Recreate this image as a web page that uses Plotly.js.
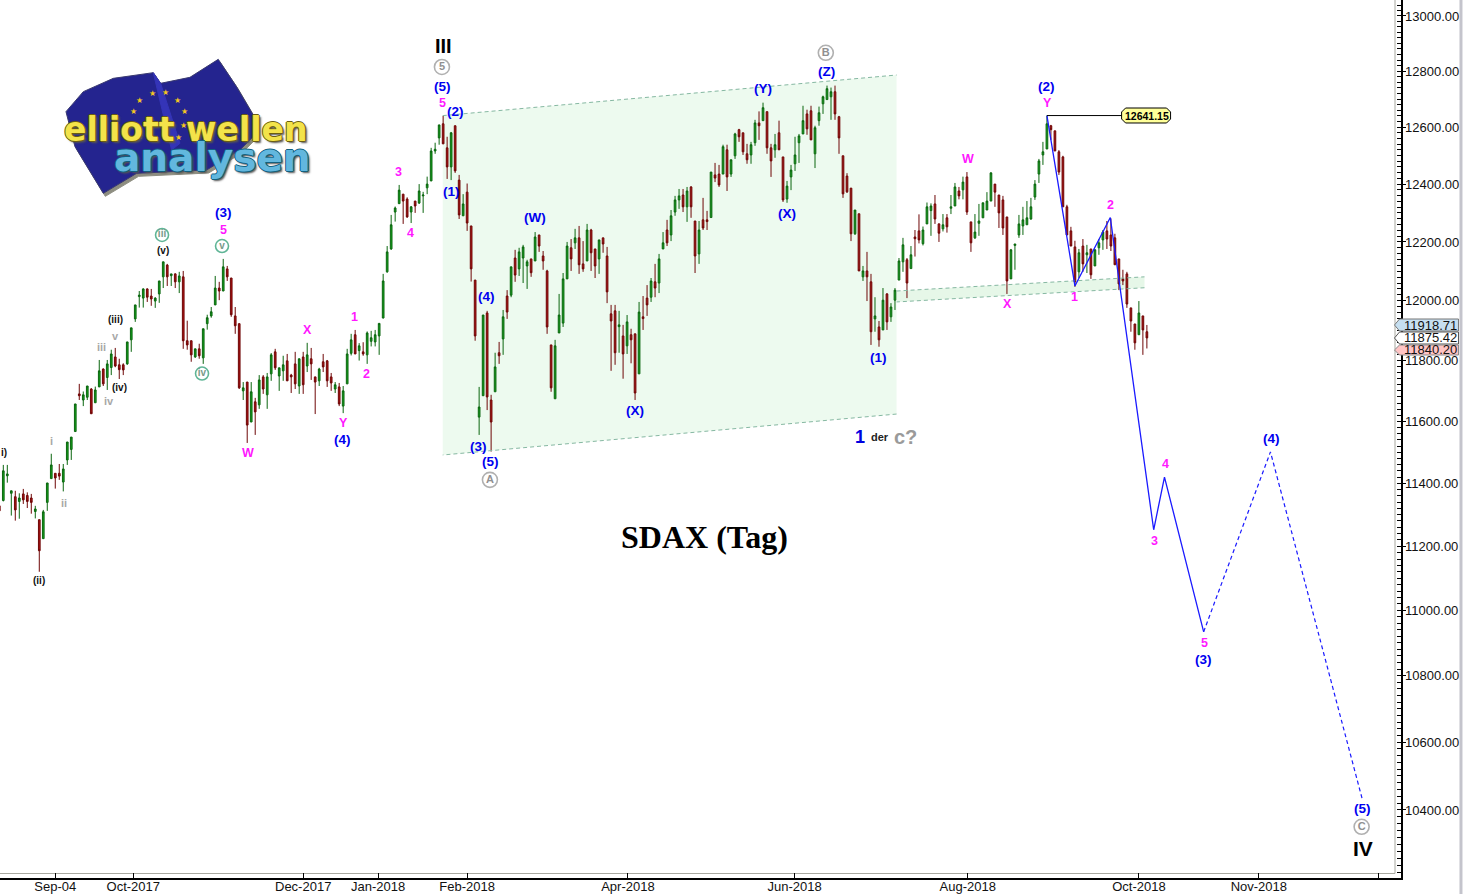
<!DOCTYPE html>
<html><head><meta charset="utf-8">
<script src="https://cdn.plot.ly/plotly-3.0.1.min.js"></script>
<style>html,body{margin:0;padding:0;background:#fff;overflow:hidden}#c{width:1463px;height:894px}</style>
</head><body><div id="c"></div>
<script>
const opens=[11328,11345,11424,11368,11357,11342,11366,11361,11353,11310,
11284,11224,11339,11415,11432,11432,11404,11475,11509,11567,
11690,11670,11679,11706,11661,11713,11772,11744,11777,11812,
11786,11786,11789,11869,11939,12014,12009,12040,12016,11999,
12023,12081,12121,12085,12091,12064,12081,11866,11866,11812,
11839,11809,11923,11949,11986,12043,12033,12108,12077,11949,
11923,11700,11729,11598,11664,11654,11746,11687,11756,11829,
11749,11766,11799,11752,11789,11716,11812,11782,11806,11746,
11733,11796,11799,11746,11706,11713,11650,11723,11824,11886,
11833,11829,11819,11864,11862,11882,11942,12098,12176,12303,
12332,12365,12348,12303,12341,12334,12359,12387,12411,12516,
12562,12612,12527,12460,12605,12414,12290,12372,12255,12070,
11614,11684,11959,11670,11697,11826,11872,12016,12019,12145,
12108,12145,12118,12142,12135,12224,12152,12101,11852,11674,
11892,11925,12074,12180,12197,12214,12125,12135,12241,12176,
12142,12214,12152,11956,11966,11913,11882,11849,11886,11889,
11756,11946,12009,12012,12064,12060,12176,12241,12224,12303,
12345,12362,12321,12390,12272,12159,12276,12276,12284,12432,
12435,12435,12520,12435,12499,12591,12580,12506,12502,12545,
12615,12623,12655,12527,12520,12580,12495,12348,12425,12471,
12545,12576,12647,12658,12506,12623,12683,12698,12708,12726,
12637,12499,12428,12386,12228,12297,12081,12101,12064,11939,
11912,11902,12023,11946,12002,12070,12132,12139,12109,12217,
12238,12194,12262,12308,12331,12262,12245,12283,12316,12324,
12376,12380,12425,12269,12214,12264,12283,12310,12341,12400,
12362,12345,12286,12074,12188,12224,12255,12259,12279,12355,
12435,12502,12523,12605,12587,12513,12495,12321,12238,12183,
12098,12186,12156,12176,12118,12180,12207,12238,12224,12214,
12142,12074,12091,11976,11922,11886,11949,11896];
const highs=[11347,11459,11459,11376,11376,11368,11382,11371,11366,11328,
11284,11315,11401,11495,11432,11462,11462,11533,11549,11657,
11723,11698,11716,11709,11714,11802,11774,11802,11836,11842,
11806,11791,11862,11909,11986,12033,12042,12042,12040,12012,
12067,12132,12125,12091,12093,12098,12101,11933,11866,11839,
11856,11906,11953,11979,12084,12064,12142,12118,12077,11979,
11923,11729,11729,11729,11677,11752,11752,11759,11825,11839,
11776,11816,11822,11756,11829,11806,11829,11859,11842,11746,
11776,11822,11802,11759,11729,11726,11716,11839,11889,11902,
11858,11861,11897,11899,11902,11924,12091,12186,12293,12322,
12397,12365,12354,12324,12341,12400,12373,12426,12527,12545,
12608,12640,12566,12583,12605,12432,12365,12402,12255,12070,
11713,11952,11966,11687,11826,11862,11969,12036,12115,12173,
12180,12190,12139,12142,12234,12224,12169,12105,11852,11869,
12023,12094,12200,12210,12245,12255,12203,12262,12245,12176,
12207,12214,12183,11986,11986,11966,11919,11952,11906,11889,
11996,12016,12053,12077,12125,12159,12234,12276,12310,12359,
12383,12383,12390,12393,12272,12272,12352,12307,12442,12474,
12467,12538,12538,12485,12580,12594,12580,12541,12548,12626,
12656,12687,12655,12541,12576,12623,12495,12411,12467,12566,
12576,12676,12662,12676,12605,12673,12712,12748,12741,12748,
12640,12499,12438,12386,12310,12297,12118,12166,12091,12012,
11932,12043,12026,11992,12043,12145,12214,12145,12186,12241,
12295,12253,12336,12333,12362,12264,12296,12296,12362,12404,
12390,12426,12442,12269,12296,12331,12335,12372,12442,12400,
12362,12359,12286,12176,12193,12293,12321,12341,12352,12414,
12488,12548,12641.15,12608,12587,12519,12499,12328,12252,12204,
12176,12210,12190,12176,12176,12210,12241,12272,12281,12228,
12142,12105,12098,11976,11922,11999,11949,11918.71];
const lows=[11310,11342,11402,11297,11281,11287,11334,11321,11303,11288,
11120,11224,11312,11415,11383,11411,11374,11459,11475,11567,
11670,11650,11670,11625,11661,11713,11716,11703,11752,11778,
11739,11752,11786,11829,11929,11977,11977,11996,11983,11976,
11993,12043,12050,12050,12043,12026,11839,11836,11796,11809,
11806,11789,11903,11943,11986,12002,12033,12067,11946,11889,
11706,11670,11530,11598,11556,11641,11690,11641,11733,11769,
11700,11733,11733,11693,11706,11690,11690,11762,11736,11624,
11716,11762,11713,11700,11693,11650,11627,11723,11817,11822,
11800,11816,11789,11847,11847,11819,11941,12095,12173,12270,
12332,12262,12283,12265,12300,12331,12300,12365,12411,12506,
12538,12541,12418,12414,12439,12279,12290,12238,12065,11866,
11556,11684,11637,11502,11697,11789,11819,11939,12012,12064,
12084,12060,12040,12081,12135,12166,12105,11889,11697,11674,
11892,11912,12074,12101,12176,12091,12098,12135,12101,12077,
12091,12163,11992,11766,11786,11826,11740,11822,11791,11670,
11756,11902,11949,11996,12012,12026,12176,12186,12203,12290,
12314,12303,12269,12283,12094,12125,12241,12241,12284,12407,
12390,12435,12376,12425,12488,12548,12502,12471,12471,12534,
12555,12623,12506,12425,12492,12520,12338,12335,12379,12446,
12474,12576,12573,12555,12456,12605,12647,12698,12626,12626,
12506,12352,12369,12203,12224,12101,12067,11999,11852,11896,
11846,11902,11902,11929,11969,12070,12098,12009,12109,12150,
12195,12188,12262,12221,12262,12200,12236,12232,12296,12324,
12347,12347,12293,12166,12210,12221,12283,12310,12341,12321,
12248,12224,12023,12074,12105,12214,12224,12259,12276,12345,
12404,12467,12523,12555,12516,12432,12321,12224,12186,12047,
12077,12098,12094,12074,12118,12156,12173,12176,12169,12122,
12036,12053,11976,11896,11836,11886,11819,11840.20];
const closes=[11312,11440,11430,11376,11315,11353,11347,11342,11339,11318,
11186,11309,11401,11459,11417,11423,11446,11533,11549,11657,
11684,11687,11716,11625,11703,11766,11723,11789,11822,11782,
11770,11769,11862,11909,11986,12019,12040,12012,12006,12009,
12067,12132,12081,12091,12064,12084,11866,11852,11819,11839,
11816,11906,11943,11963,12043,12033,12115,12081,11953,11916,
11710,11710,11588,11697,11631,11736,11706,11746,11819,11776,
11776,11786,11733,11746,11723,11806,11720,11819,11789,11729,
11772,11779,11733,11726,11720,11657,11700,11822,11869,11822,
11849,11822,11892,11876,11886,11924,12067,12166,12259,12317,
12379,12341,12286,12321,12324,12376,12362,12400,12516,12522,
12608,12541,12460,12580,12446,12293,12331,12265,12108,11882,
11647,11952,11680,11598,11779,11816,11946,11962,12115,12087,
12166,12183,12132,12095,12217,12186,12135,11912,11710,11849,
11952,12074,12186,12142,12214,12122,12108,12241,12163,12118,
12207,12193,12030,11932,11826,11919,11822,11929,11869,11693,
11962,11940,11986,12067,12043,12142,12197,12197,12290,12345,
12359,12321,12376,12321,12152,12241,12248,12270,12442,12421,
12397,12531,12425,12485,12576,12566,12513,12485,12538,12615,
12605,12669,12527,12481,12538,12520,12345,12393,12449,12502,
12569,12623,12594,12555,12598,12651,12708,12737,12726,12647,
12562,12366,12373,12228,12310,12101,12101,12081,11896,11949,
11869,12002,11929,11979,12036,12135,12190,12060,12156,12211,
12207,12241,12321,12324,12279,12230,12259,12252,12321,12390,
12359,12407,12303,12197,12234,12272,12335,12341,12439,12372,
12300,12248,12067,12173,12193,12262,12276,12283,12321,12400,
12481,12513,12612,12591,12516,12442,12321,12224,12186,12064,
12163,12125,12163,12088,12173,12197,12234,12210,12186,12122,
12057,12067,11989,11932,11859,11959,11902,11875.42];

const xTickVals=[14,33.5,76,94.75,117,157.2,198.9,242.2,285,315,345];
const xTickText=['Sep-04','Oct-2017','Dec-2017','Jan-2018','Feb-2018','Apr-2018','Jun-2018','Aug-2018','Oct-2018','Nov-2018',''];
const yTickVals=[13000,12800,12600,12400,12200,12000,11800,11600,11400,11200,11000,10800,10600,10400];

const forecastSolidX=[262,269,277.85,288.7,291.4,301.2];
const forecastSolidY=[12641.15,12050,12284,11252,11420,10934];
const forecastDashX=[301.2,317.9,340.9];
const forecastDashY=[10934,11501,10430];
const peakLineX=[262,280.7];
const peakLineY=[12641.15,12641.15];

const channelX=[110.9,224.4,224.4,110.9];
const channelY=[12641,12786,11624,11491];
const stripX=[224.4,286.4,286.4,224.4];
const stripY=[12033,12081,12044,11996];

const blueLabels=[['(3)',55.7,12300],['(5)',110.7,12744],['(4)',85.7,11540],['(2)',113.9,12654],['(1)',112.9,12373],['(W)',133.7,12283],['(4)',121.7,12013],['(3)',119.7,11520],['(5)',122.7,11469],['(Y)',190.7,12736],['(Z)',206.7,12797],['(X)',196.7,12297],['(X)',158.7,11634],['(1)',219.7,11809],['(2)',261.7,12744],['(3)',300.9,10848],['(4)',317.9,11546],['(5)',340.7,10403]];
const magentaLabels=[['5',55.7,12241],['W',61.9,11498],['X',76.9,11902],['Y',85.9,11595],['1',88.7,11946],['2',91.7,11757],['3',99.7,12442],['4',102.7,12231],['5',110.7,12687],['W',241.9,12488],['Y',261.9,12687],['X',251.9,11989],['1',268.7,12013],['2',277.7,12328],['3',288.7,11217],['4',291.4,11462],['5',301.2,10900]];
const blackLabels=[['(v)',40.7,12172],['(iii)',28.9,11936],['(iv)',29.9,11710],['(ii)',9.7,11092],['i)',0.9,11498]];
const grayLabels=[['v',28.9,11882],['iii',25.2,11845],['iv',27.2,11667],['i',12.9,11537],['ii',15.9,11337]];
const greenCircleText=['iii','v','iv'];
const greenCircleX=[40.7,55.7,50.7];
const greenCircleY=[12224,12186,11757];
const grayCircleText=['5','A','B','C'];
const grayCircleX=[110.7,122.7,206.7,340.7];
const grayCircleY=[12815,11411,12866,10351];
const lastPriceTags=['11918.71','11875.42','11840.20'];

const FONT='"Liberation Sans", Arial, sans-serif';
const PW=1401.5, PH=878;
const X=p=>p/PW, Y=p=>1-p/PH;
const pathOf=pts=>pts.map((q,i)=>(i?'L':'M')+X(q[0]).toFixed(5)+' '+Y(q[1]).toFixed(5)).join(' ')+' Z';
const zoomPt=q=>[40+q[0]/3,50+q[1]/3];
const dataPath=(xs,ys)=>xs.map((v,i)=>(i?'L':'M')+v+' '+ys[i]).join(' ')+' Z';

const traces=[
 {type:'scatter',mode:'lines',x:channelX.slice(0,2),y:channelY.slice(0,2),line:{color:'#86b8a2',width:1,dash:'4px,3px'},hoverinfo:'skip'},
 {type:'scatter',mode:'lines',x:channelX.slice(2),y:channelY.slice(2),line:{color:'#86b8a2',width:1,dash:'4px,3px'},hoverinfo:'skip'},
 {type:'scatter',mode:'lines',x:stripX.slice(0,2),y:stripY.slice(0,2),line:{color:'#86b8a2',width:1,dash:'4px,3px'},hoverinfo:'skip'},
 {type:'scatter',mode:'lines',x:stripX.slice(2),y:stripY.slice(2),line:{color:'#86b8a2',width:1,dash:'4px,3px'},hoverinfo:'skip'},
 {type:'candlestick',x:opens.map((_,i)=>i),open:opens,high:highs,low:lows,close:closes,
  increasing:{line:{color:'#0b660f',width:1},fillcolor:'#12a31a'},
  decreasing:{line:{color:'#6e0606',width:1},fillcolor:'#b01212'},hoverinfo:'skip'},
 {type:'scatter',mode:'lines',x:forecastSolidX,y:forecastSolidY,line:{color:'#1a1aff',width:1.3},hoverinfo:'skip'},
 {type:'scatter',mode:'lines',x:forecastDashX,y:forecastDashY,line:{color:'#1a1aff',width:1.2,dash:'4px,3px'},hoverinfo:'skip'},
 {type:'scatter',mode:'lines',x:peakLineX,y:peakLineY,line:{color:'#000',width:1},hoverinfo:'skip'},
 {type:'scatter',mode:'markers+text',x:greenCircleX,y:greenCircleY,text:greenCircleText,textposition:'middle center',
  textfont:{family:FONT,size:10,color:'#7a9a8a',weight:700},marker:{size:13,color:'#fff',line:{color:'#5fb596',width:1.6}},hoverinfo:'skip'},
 {type:'scatter',mode:'markers+text',x:grayCircleX,y:grayCircleY,text:grayCircleText,textposition:'middle center',
  textfont:{family:FONT,size:11,color:'#909090',weight:700},marker:{size:15,color:'#fff',line:{color:'#b0b0b0',width:1.6}},hoverinfo:'skip'}
];

const note=(t,i,p,size,color,extra)=>Object.assign({text:t,x:i,y:Math.log10(p),xref:'x',yref:'y',xshift:1,showarrow:false,
  xanchor:'center',yanchor:'middle',font:{family:FONT,size:size,color:color}},extra||{});
const annotations=[];
const stars=[[300,150],[338,130],[378,128],[413,150],[434,186],[432,228],[415,263],[280,186],[300,258]];
stars.forEach(s=>{const q=zoomPt(s);annotations.push({text:'★',x:X(q[0]),y:Y(q[1]),xref:'paper',yref:'paper',showarrow:false,xanchor:'center',yanchor:'middle',font:{family:'"DejaVu Sans"',size:8,color:'#f2c522'}});});
annotations.push({text:'<b>elliott wellen</b>',x:X(186),y:Y(130),xref:'paper',yref:'paper',showarrow:false,xanchor:'center',yanchor:'middle',
  font:{family:'"DejaVu Sans"',size:33,color:'#f3e34a',shadow:'1px 0 0 #6b5d10,-1px 0 0 #6b5d10,0 1px 0 #6b5d10,0 -1px 0 #6b5d10,2px 2px 2px #555'}});
annotations.push({text:'<b>analysen</b>',x:X(213),y:Y(158),xref:'paper',yref:'paper',showarrow:false,xanchor:'center',yanchor:'middle',
  font:{family:'"DejaVu Sans"',size:39,color:'#62b7de',shadow:'1px 0 0 #12607f,-1px 0 0 #12607f,0 1px 0 #12607f,0 -1px 0 #12607f,2px 2px 2px #555'}});
blueLabels.forEach(l=>annotations.push(note('<b>'+l[0]+'</b>',l[1],l[2],13.5,'#0000f0')));
magentaLabels.forEach(l=>annotations.push(note('<b>'+l[0]+'</b>',l[1],l[2],12.5,'#ff18ff')));
blackLabels.forEach(l=>annotations.push(note('<b>'+l[0]+'</b>',l[1],l[2],10,'#111')));
grayLabels.forEach(l=>annotations.push(note('<b>'+l[0]+'</b>',l[1],l[2],11,'#a8a8a8')));
annotations.push(note('<b>III</b>',110.9,12890,20,'#000'));
annotations.push(note('<b>IV</b>',340.9,10287,21,'#000'));
annotations.push(note('<b>1</b>',214.9,11550,18,'#0000e0'));
annotations.push(note('<b>der</b>',219.9,11550,11,'#222'));
annotations.push(note('<b>c?</b>',226.4,11550,20,'#9a9a9a'));
annotations.push(note('<b>SDAX (Tag)</b>',176.2,11229,32,'#000',{font:{family:'"Liberation Serif", serif',size:32,color:'#000'}}));
annotations.push(note('<b>12641.15</b>',286.8,12641.15,10.5,'#000'));
const tagRows=[325,338,350];
lastPriceTags.forEach((t,i)=>annotations.push({text:t,x:X(1431.5),y:Y(tagRows[i]),xref:'paper',yref:'paper',showarrow:false,xanchor:'center',yanchor:'middle',font:{family:FONT,size:13,color:'#111'}}));

const flag=[[78,185],[130,125],[220,85],[340,68],[362,100],[450,82],[535,28],[590,110],[640,195],[650,250],[600,300],[500,360],[290,370],[190,430],[105,290]].map(zoomPt);
const flagShadow=flag.map(q=>[q[0]+2,q[1]+3]);
const fold=[[340,68],[362,100],[420,280],[395,300]].map(zoomPt);
const tagPath=(y0,y1)=>pathOf([[1395,(y0+y1)/2],[1400,y0],[1459,y0],[1459,y1],[1400,y1]]);
const shape=(path,fill,line,w)=>({type:'path',xref:'paper',yref:'paper',path:path,fillcolor:fill,line:{color:line,width:w||1},layer:'above'});
const rx0=1122,rx1=1171,ry0=108,ry1=123,r=4;
const callout=pathOf([[rx0+r,ry0],[rx1-r,ry0],[rx1,ry0+r],[rx1,ry1-r],[rx1-r,ry1],[rx0+r,ry1],[rx0,ry1-r],[rx0,ry0+r]]);
const shapes=[
 {type:'path',xref:'x',yref:'y',path:dataPath(channelX,channelY),fillcolor:'#edfaef',line:{width:0},layer:'below'},
 {type:'path',xref:'x',yref:'y',path:dataPath(stripX,stripY),fillcolor:'#e6f7e8',line:{width:0},layer:'below'},
 shape(pathOf(flagShadow),'#8d8d80','#8d8d80'),
 shape(pathOf(flag),'#24248f','#3a3a70'),
 shape(pathOf(fold),'#3434b8','#3434b8'),
 shape(callout,'#ffff99','#000'),
 shape(tagPath(319,331),'#c6dff0','#777'),
 shape(tagPath(332,344),'#ffffff','#555'),
 shape(tagPath(345,355),'#ffc4c4','#888'),
 {type:'line',xref:'paper',yref:'paper',x0:X(1395.5),x1:X(1395.5),y0:Y(873.5),y1:1,line:{color:'#a8a8a0',width:1},layer:'below'},
 {type:'line',xref:'paper',yref:'paper',x0:0,x1:X(1395.5),y0:Y(873.5),y1:Y(873.5),line:{color:'#a8a8a0',width:1},layer:'below'},
 {type:'rect',xref:'paper',yref:'paper',x0:X(1460),x1:X(1463),y0:0-16/PH,y1:1,fillcolor:'#c4c4cc',line:{width:0},layer:'above'}
];
const minorY=[];
for(let v=10200;v<=13060;v+=20) minorY.push(v);

const layout={width:1463,height:894,margin:{l:0,r:61.5,t:0,b:16,pad:0,autoexpand:false},
 paper_bgcolor:'#fff',plot_bgcolor:'#fff',showlegend:false,boxgap:0.4,
 xaxis:{type:'linear',range:[0.175,350.55],rangeslider:{visible:false},showgrid:false,zeroline:false,
  tickmode:'array',tickvals:xTickVals,ticktext:xTickText,ticks:'inside',ticklen:5,tickcolor:'#000',tickwidth:1,ticklabelstandoff:-4,
  showline:true,linecolor:'#000',linewidth:1.5,tickfont:{family:FONT,size:13,color:'#111'},fixedrange:true},
 yaxis:{type:'log',side:'right',range:[4.00873,4.11589],showgrid:false,zeroline:false,
  tickmode:'array',tickvals:yTickVals,ticktext:yTickVals.map(v=>v.toFixed(2)),ticks:'outside',ticklen:3,tickcolor:'#000',tickwidth:1,ticklabelstandoff:-3,
  minor:{tickmode:'array',tickvals:minorY,ticks:'inside',ticklen:4,tickcolor:'#000',tickwidth:1,showgrid:false},
  showline:true,linecolor:'#000',linewidth:1.5,tickfont:{family:FONT,size:13,color:'#111'},fixedrange:true},
 annotations:annotations,shapes:shapes};
Plotly.newPlot('c',traces,layout,{displayModeBar:false,staticPlot:true});
</script></body></html>
